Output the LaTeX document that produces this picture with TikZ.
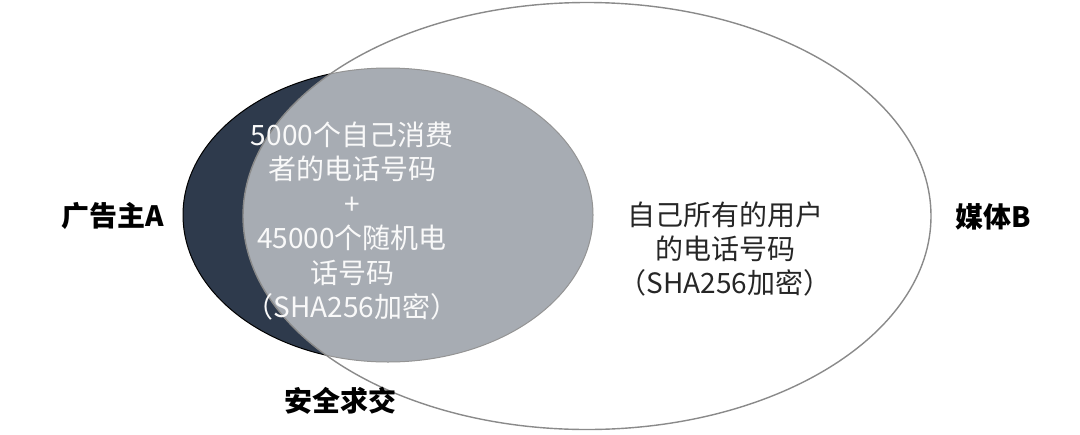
\documentclass[tikz,border=0pt]{standalone}
\usepackage{fontspec}
\setmainfont{Noto Sans CJK SC}
\definecolor{advdark}{RGB}{46, 58, 76}
\definecolor{mediagray}{RGB}{138, 138, 138}
\usetikzlibrary{shapes.geometric, positioning}

\begin{document}
\begin{tikzpicture}[
  x=0.5pt, y=-0.5pt,
  setbox/.style={ellipse, inner sep=0pt, outer sep=0pt},
  sidelabel/.style={font=\fontsize{14pt}{17pt}\selectfont\bfseries, text=black},
  innertext/.style={align=center, font=\fontsize{14pt}{17.2pt}\selectfont}
]
  \useasboundingbox (0,0) rectangle (1080,434);
  \node[setbox, draw=black, line width=0.5pt, fill=advdark,
        minimum width=205pt, minimum height=147pt] (setA) at (388,215) {};
  \node[setbox, draw=mediagray, line width=0.7pt, fill=white, fill opacity=0.58,
        minimum width=344pt, minimum height=213.5pt] (setB) at (587,216) {};
  \node[innertext, text=white!95!gray] (common) at (352,221) {
    5000个自己消费\\
    者的电话号码\\
    +\\
    45000个随机电\\
    话号码\\
    （SHA256加密）
  };
  \node[innertext, text=black!85] (mediatext) at (725,249) {
    自己所有的用户\\
    的电话号码\\
    （SHA256加密）
  };
  \node[sidelabel] (labelA) at (113,216) {广告主A};
  \node[sidelabel] (labelB) at (993,217) {媒体B};
  \node[sidelabel] (labelX) at (340,401) {安全求交};
\end{tikzpicture}
\end{document}
